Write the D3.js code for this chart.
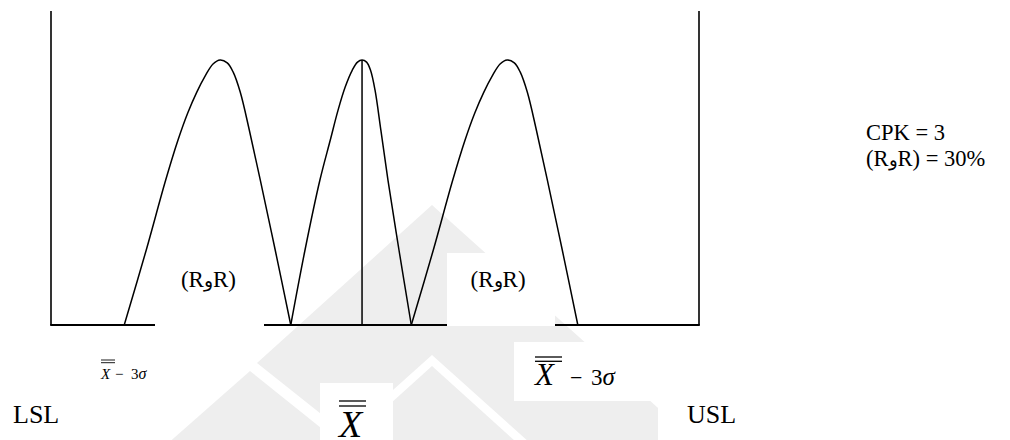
<!DOCTYPE html>
<html>
<head>
<meta charset="utf-8">
<script src="https://cdn.jsdelivr.net/npm/d3@7"></script>
<style>
    body { margin: 0; background: #fff; }
    svg { display: block; }
    text { font-family: "Liberation Serif", "Times New Roman", "DejaVu Serif", serif; fill: #000; }
</style>
</head>
<body>
<div id="chart"></div>
<script>
// x: 0 = LSL, 100 = USL ; y: 0 = base line, 100 = peak height
const lobeLeft = [
    [11.3, 0], [14.7, 28.3], [17.7, 54.7], [19.6, 69.8], [21.1, 80.0], [22.5, 87.9],
    [23.8, 94.0], [25.0, 98.5], [26.1, 100], [27.2, 98.9], [28.1, 95.5], [29.2, 87.9],
    [30.6, 73.6], [32.3, 54.7], [34.6, 28.3], [37.0, 0]
];
const lobeMiddle = [
    [37.0, 0], [39.2, 28.3], [41.5, 54.7], [43.1, 69.8], [44.3, 81.1], [45.4, 89.8],
    [46.5, 96.2], [47.3, 99.2], [48.0, 100], [48.7, 99.2], [49.3, 96.2], [50.0, 88.7],
    [50.9, 73.6], [52.0, 54.7], [53.7, 28.3], [55.6, 0]
];
const lobeRight = [
    [55.6, 0], [59.0, 28.3], [62.0, 54.7], [63.9, 69.8], [65.4, 80.0], [66.8, 87.9],
    [68.1, 94.0], [69.3, 98.5], [70.4, 100], [71.5, 98.9], [72.4, 95.5], [73.5, 87.9],
    [74.9, 73.6], [76.6, 54.7], [78.9, 28.3], [81.3, 0]
];
const centerX = 48.0;
const specLimits = [0, 100];
const frameTop = 118.5;
const rrLabels = [24.3, 69.0];
const infoLines = ["CPK = 3", "(R\u0648R) = 30%"];

const width = 1010, height = 440;

const x = d3.scaleLinear().domain([0, 100]).range([51, 699]);
const y = d3.scaleLinear().domain([0, 100]).range([325, 60]);

const svg = d3.select('#chart')
    .append('svg')
    .attr('width', width)
    .attr('height', height);

// faint watermark logo in the background
const watermark = [
    [[432, 205], [716, 460], [549, 460], [432, 355], [345, 433], [257, 363]],
    [[432, 366], [536, 460], [328, 460]],
    [[250, 371], [361, 460], [149, 460]]
];
svg.append('g')
    .selectAll('polygon')
    .data(watermark)
    .enter()
    .append('polygon')
    .attr('points', d => d.map(p => p.join(',')).join(' '))
    .attr('fill', '#eeeeee');

// frame: LSL / USL lines and base line
svg.selectAll('line.limit')
    .data(specLimits)
    .enter()
    .append('line')
    .attr('class', 'limit')
    .attr('x1', d => x(d)).attr('x2', d => x(d))
    .attr('y1', y(0)).attr('y2', y(frameTop))
    .attr('stroke', '#000')
    .attr('stroke-width', 1.6);

svg.append('line')
    .attr('x1', x(0) - 0.8).attr('x2', x(100) + 0.8)
    .attr('y1', y(0)).attr('y2', y(0))
    .attr('stroke', '#000')
    .attr('stroke-width', 2.2);

const line = d3.line()
    .x(d => x(d[0]))
    .y(d => y(d[1]))
    .curve(d3.curveCatmullRom.alpha(0.5));

svg.append('g')
    .selectAll('path')
    .data([lobeLeft, lobeMiddle, lobeRight])
    .enter()
    .append('path')
    .attr('d', line)
    .attr('fill', 'none')
    .attr('stroke', '#000')
    .attr('stroke-width', 1.5);

svg.append('line')
    .attr('x1', x(centerX)).attr('x2', x(centerX))
    .attr('y1', y(0)).attr('y2', y(100))
    .attr('stroke', '#000')
    .attr('stroke-width', 1.5);

// white text boxes (they hide base line and watermark)
const boxes = [
    [155, 253, 109, 73], [447, 253, 108, 73],
    [320, 383, 73, 60], [514, 342, 139, 59], [658, 401, 90, 42]
];
svg.append('g')
    .selectAll('rect')
    .data(boxes)
    .enter()
    .append('rect')
    .attr('x', d => d[0]).attr('y', d => d[1])
    .attr('width', d => d[2]).attr('height', d => d[3])
    .attr('fill', '#fff');

// (R و R) labels inside the outer curves
const rr = svg.selectAll('text.rr')
    .data(rrLabels)
    .enter()
    .append('text')
    .attr('class', 'rr')
    .attr('x', d => x(d))
    .attr('y', 287)
    .attr('text-anchor', 'middle')
    .attr('font-size', '23px');
rr.append('tspan').text('(R');
rr.append('tspan').attr('font-size', '19px').text('\u0648');
rr.append('tspan').text('R)');

const info = svg.selectAll('text.info')
    .data(infoLines)
    .enter()
    .append('text')
    .attr('class', 'info')
    .attr('x', 866)
    .attr('y', (d, i) => 140 + i * 26)
    .attr('font-size', '22.5px');
info.each(function(d) {
    const t = d3.select(this);
    if (d.indexOf('\u0648') < 0) { t.text(d); return; }
    const parts = d.split('\u0648');
    t.append('tspan').text(parts[0]);
    t.append('tspan').attr('font-size', '18px').text('\u0648');
    t.append('tspan').text(parts[1]);
});

svg.append('text').attr('x', 13).attr('y', 423).attr('font-size', '26px').text('LSL');
svg.append('text').attr('x', 687).attr('y', 423).attr('font-size', '26px').text('USL');

// X double-bar labels
function xbar(px, baseline, size, barW, barY, gap) {
    svg.append('text')
        .attr('x', px).attr('y', baseline)
        .attr('font-size', size + 'px')
        .attr('font-style', 'italic')
        .text('X');
    [0, gap].forEach(g => {
        svg.append('line')
            .attr('x1', px).attr('x2', px + barW)
            .attr('y1', barY + g).attr('y2', barY + g)
            .attr('stroke', '#000')
            .attr('stroke-width', size > 20 ? 1.3 : 0.9);
    });
}

xbar(101, 378.5, 15, 14, 360, 2.7);
svg.append('text').attr('x', 115).attr('y', 378.5).attr('font-size', '15px').text('\u2212');
svg.append('text').attr('x', 131).attr('y', 378.5).attr('font-size', '15px')
    .text('3').append('tspan').attr('font-style', 'italic').attr('font-size', '16px').text('\u03c3');

xbar(339, 437, 38, 27, 401, 5);

xbar(535, 385, 31, 27, 357, 4.3);
svg.append('text').attr('x', 570).attr('y', 385).attr('font-size', '22px').text('\u2212');
svg.append('text').attr('x', 591).attr('y', 385).attr('font-size', '23px')
    .text('3').append('tspan').attr('font-style', 'italic').attr('font-size', '25px').text('\u03c3');
</script>
</body>
</html>
